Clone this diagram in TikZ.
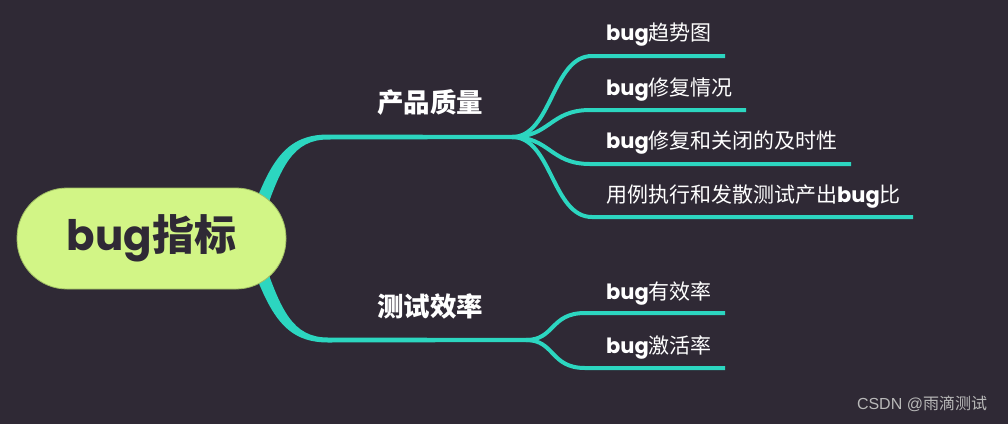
\documentclass[tikz,border=0pt]{standalone}
\usepackage{fontspec}
\setmainfont{Poppins}
\newfontfamily\cjk{Noto Sans CJK SC}
\newfontfamily\wmfont{Liberation Sans}
\usetikzlibrary{backgrounds}
\definecolor{bg}{RGB}{47,41,53}
\definecolor{brteal}{RGB}{44,214,192}
\definecolor{rootfill}{RGB}{210,245,134}
\definecolor{rootedge}{RGB}{160,190,100}
\definecolor{wmgray}{RGB}{185,185,185}
\tikzset{
  rootbox/.style={fill=rootfill, draw=rootedge, line width=0.8pt, rounded corners=50pt,
    minimum width=269pt, minimum height=101pt, inner sep=0pt, text=bg,
    font=\fontsize{42}{50}\selectfont\bfseries},
  mainlabel/.style={text=white, inner sep=0pt, font=\fontsize{26.5}{30}\selectfont\bfseries\cjk},
  leaftext/.style={text=white, inner sep=0pt, anchor=west, font=\fontsize{21}{25}\selectfont},
  branch/.style={fill=brteal, draw=none},
  leafline/.style={draw=brteal, line width=4pt, line cap=butt},
  wm/.style={text=wmgray, inner sep=0pt, font=\fontsize{16}{19}\selectfont}
}
\begin{document}
\begin{tikzpicture}[x=1pt,y=-1pt]
\useasboundingbox (0,0) rectangle (1008,424);
% nodes
\node[rootbox] (root) at (151.5,238.5) {bug{\cjk\bfseries 指标}};
\node[mainlabel] (p) at (430,102) {产品质量};
\node[mainlabel] (q) at (430,306) {测试效率};
\node[leaftext] (l1) at (606,35) {\textbf{bug}{\cjk 趋势图}};
\node[leaftext] (l2) at (606,90) {\textbf{bug}{\cjk 修复情况}};
\node[leaftext] (l3) at (606,143) {\textbf{bug}{\cjk 修复和关闭的及时性}};
\node[leaftext] (l4) at (606,197) {{\cjk 用例执行和发散测试产出}\textbf{bug}{\cjk 比}};
\node[leaftext] (l5) at (606,293) {\textbf{bug}{\cjk 有效率}};
\node[leaftext] (l6) at (606,347) {\textbf{bug}{\cjk 激活率}};
\node[wm] (wm) at (922,404) {\wmfont CSDN @{\cjk 雨滴测试}};
% junctions and underline ends
\coordinate (j1) at (512,137);
\coordinate (j2) at (526,340);
\coordinate (u1) at (725,56);
\coordinate (u2) at (746,110);
\coordinate (u3) at (851,164);
\coordinate (u4) at (913,217);
\coordinate (u5) at (725,313);
\coordinate (u6) at (725,368);
\begin{scope}[on background layer]
\fill[bg] (0,0) rectangle (1008,424);
% main branches
\fill[branch] (251,214) .. controls (270,163) and (285,134.5) .. (328,134.5) -- (522,135) -- (522,139) -- (328,139.5) .. controls (293,139.5) and (281,166) .. (263,219) -- cycle;
\fill[branch] (263,258) .. controls (281,311) and (293,337.5) .. (328,337.5) -- (534,338) -- (534,342) -- (328,342.5) .. controls (285,342.5) and (270,314) .. (251,263) -- cycle;
% leaves
\draw[leafline] (j1) .. controls (552,137) and (552,56) .. (592,56) -- (u1);
\draw[leafline] (j1) .. controls (550,137) and (550,110) .. (590,110) -- (u2);
\draw[leafline] (j1) .. controls (550,137) and (550,164) .. (590,164) -- (u3);
\draw[leafline] (j1) .. controls (552,137) and (552,217) .. (592,217) -- (u4);
\draw[leafline] (j2) .. controls (555,340) and (550,313) .. (585,313) -- (u5);
\draw[leafline] (j2) .. controls (555,340) and (550,368) .. (585,368) -- (u6);
\end{scope}
\end{tikzpicture}
\end{document}
